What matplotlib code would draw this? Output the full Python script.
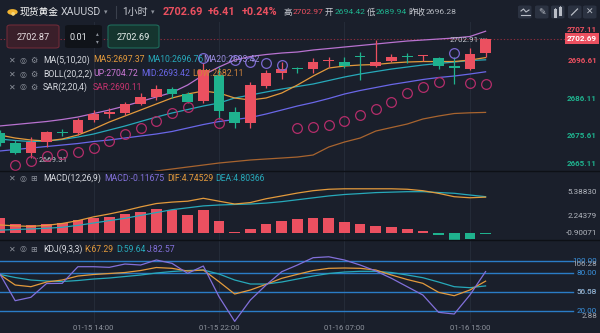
import numpy as np
import matplotlib
matplotlib.use('Agg')
import matplotlib.pyplot as plt
from matplotlib.patches import FancyBboxPatch, Circle
from matplotlib.lines import Line2D

plt.rcParams['font.family'] = ['Roboto', 'Noto Sans CJK SC', 'DejaVu Sans']

# 1小时 K线 (01-15 08:00 起)
opens = [2676.37, 2673.67, 2670.88, 2673.78, 2676.47, 2676.28, 2679.99, 2681.80, 2681.86, 2684.45,
         2686.48, 2688.76, 2687.23, 2685.28, 2692.52, 2682.30, 2679.07, 2689.46, 2692.96, 2694.30,
         2694.11, 2696.50, 2696.06, 2697.70, 2695.11, 2696.42, 2697.70, 2697.80, 2697.17, 2695.11,
         2694.19, 2698.57]
highs = [2677.20, 2674.42, 2675.17, 2677.01, 2677.49, 2680.46, 2682.77, 2683.25, 2685.09, 2687.42,
         2689.74, 2689.18, 2687.87, 2695.78, 2694.84, 2683.53, 2690.49, 2693.91, 2696.23, 2694.84,
         2697.18, 2697.62, 2697.62, 2698.85, 2702.27, 2698.29, 2698.57, 2698.09, 2697.54, 2697.62,
         2700.13, 2702.91]
lows = [2672.75, 2670.52, 2669.31, 2672.55, 2675.53, 2675.81, 2679.51, 2680.46, 2681.38, 2684.17,
        2685.56, 2686.03, 2684.81, 2684.64, 2680.18, 2677.68, 2677.68, 2688.82, 2691.32, 2692.96,
        2692.96, 2694.84, 2694.39, 2691.13, 2694.84, 2696.06, 2695.78, 2696.42, 2694.11, 2689.94,
        2693.91, 2697.62]
closes = [2673.58, 2670.88, 2673.94, 2676.56, 2676.30, 2679.99, 2681.66, 2681.95, 2684.45, 2686.31,
          2688.71, 2687.37, 2685.09, 2693.91, 2682.58, 2679.24, 2689.74, 2692.96, 2694.11, 2694.15,
          2696.23, 2696.65, 2695.17, 2697.55, 2696.23, 2697.45, 2697.55, 2697.95, 2695.11, 2694.39,
          2698.29, 2702.69]

ma5 = [2675.81, 2674.97, 2674.42, 2674.14, 2674.70, 2675.81, 2677.48, 2679.43, 2681.10, 2682.77,
       2684.45, 2686.12, 2687.23, 2688.07, 2687.51, 2686.12, 2685.56, 2686.12, 2687.51, 2689.74,
       2692.24, 2694.47, 2695.03, 2695.31, 2695.45, 2695.87, 2696.14, 2696.28, 2696.28, 2696.28,
       2696.70, 2697.37]
ma10 = [2674.70, 2674.28, 2674.00, 2674.14, 2674.56, 2675.25, 2676.09, 2677.20, 2678.32, 2679.57,
        2680.82, 2681.94, 2682.91, 2683.89, 2684.72, 2686.12, 2686.95, 2687.79, 2688.62, 2689.32,
        2690.02, 2690.99, 2691.97, 2692.80, 2693.50, 2694.19, 2694.75, 2695.31, 2695.73, 2696.14,
        2696.56, 2696.76]
boll_mid = [2671.35, 2671.77, 2672.19, 2672.61, 2673.02, 2673.44, 2674.00, 2674.42, 2674.97, 2675.53,
            2676.09, 2676.79, 2677.76, 2678.73, 2679.57, 2680.13, 2680.68, 2681.66, 2682.77, 2683.89,
            2684.86, 2685.98, 2687.23, 2688.21, 2689.04, 2689.88, 2690.57, 2691.27, 2691.83, 2692.24,
            2692.80, 2693.42]
boll_up = [2678.32, 2678.73, 2679.15, 2679.57, 2680.13, 2680.82, 2681.80, 2682.77, 2683.89, 2685.14,
           2686.40, 2687.65, 2689.74, 2692.52, 2694.75, 2696.70, 2697.68, 2698.23, 2698.65, 2698.93,
           2699.49, 2699.90, 2700.32, 2700.74, 2701.16, 2701.58, 2701.99, 2702.27, 2702.55, 2702.83,
           2703.25, 2704.72]
boll_low = [np.nan] * 9 + [2664.95, 2665.78, 2666.34, 2666.90, 2667.45, 2668.01, 2668.43, 2668.85,
                           2669.13, 2669.40, 2669.68, 2670.24, 2672.47, 2673.86, 2674.97, 2676.92,
                           2677.90, 2678.87, 2680.27, 2681.10, 2681.80, 2682.00, 2682.11]
sar = [np.nan, 2667.45, 2668.65, 2669.96, 2670.52, 2671.16, 2672.33, 2674.14, 2676.00, 2677.76,
       2679.85, 2682.08, 2683.61, 2697.26, 2679.07, 2696.70, 2696.14, 2695.78, 2695.31, 2677.68,
       2677.95, 2678.60, 2679.79, 2681.38, 2683.05, 2685.09, 2687.42, 2689.26, 2690.66, 2698.57,
       2690.21, 2690.11]

macd_hist = [2.06, 1.24, 1.03, 1.24, 1.31, 1.74, 2.06, 2.19, 2.49, 2.81, 3.19, 2.99, 2.40, 2.99, 1.65,
             0.19, 0.61, 1.24, 1.65, 1.86, 2.06, 1.94, 1.53, 1.15, 0.99, 0.78, 0.56, 0.31, -0.22,
             -0.90071, -0.73, -0.11675]
dif = [1.09, 0.96, 0.90, 1.03, 1.28, 1.65, 2.15, 2.53, 2.96, 3.46, 3.90, 4.09, 4.21, 4.59, 4.21,
       3.84, 4.03, 4.53, 4.90, 5.28, 5.59, 5.78, 5.84, 5.84, 5.84, 5.84, 5.78, 5.59, 5.24, 4.80,
       4.66, 4.74529]
dea = [0.40, 0.49, 0.56, 0.65, 0.78, 1.03, 1.34, 1.65, 1.96, 2.34, 2.71, 3.09, 3.34, 3.59, 3.71,
       3.78, 3.84, 3.96, 4.15, 4.40, 4.65, 4.90, 5.09, 5.21, 5.34, 5.40, 5.46, 5.46, 5.35, 5.25,
       5.02, 4.80366]

k_line = [78.2, 61.1, 58.4, 65.9, 69.1, 75.5, 77.9, 79.5, 81.1, 84.3, 89.1, 87.8, 83.5, 85.1, 66.4,
          46.7, 53.1, 62.2, 71.8, 78.2, 84.3, 87.8, 88.3, 87.8, 85.1, 77.1, 69.9, 63.8, 49.4, 44.0,
          53.1, 67.29]
d_line = [78.2, 73.1, 69.1, 67.5, 66.7, 68.3, 70.7, 72.3, 74.7, 77.1, 80.3, 82.7, 84.3, 85.1, 78.7,
          69.1, 62.7, 62.7, 65.9, 70.7, 75.5, 79.5, 81.9, 83.0, 83.0, 81.1, 77.1, 72.8, 65.9, 58.4,
          56.8, 59.64]
j_line = [79.8, 36.0, 41.4, 63.5, 63.8, 90.4, 90.4, 89.4, 94.7, 93.1, 101.1, 95.8, 79.8, 91.5, 42.4,
          2.88, 37.1, 61.1, 82.4, 93.1, 104.8, 106.28, 101.1, 93.1, 83.5, 71.8, 58.4, 45.1, 17.4, 14.7,
          45.1, 82.57]

time_idx = [6, 14, 22, 30]
time_labels = ['01-15 14:00', '01-15 22:00', '01-16 07:00', '01-16 15:00']
price_ticks = [2707.11, 2696.61, 2686.11, 2675.61, 2665.11]
macd_ticks = [5.38830, 2.24379, -0.90071]
kdj_levels = [100, 80, 50, 20]
prev_close = 2696.28

BG = '#1a1f2b'
GRID = '#242b38'
RED = '#eb5060'
GREEN = '#1fb28e'
TXT = '#d6d9df'
GRAY = '#8d929c'
C_MA5 = '#e39a3c'
C_MA10 = '#27a9ba'
C_MA20 = '#9a8de0'
C_UP = '#b872d0'
C_MID = '#6a67e8'
C_LOW = '#a8642f'
C_SAR = '#b42d6a'
C_SAR_UP = '#7b68d0'
C_J = '#8270da'
C_LVL = '#2a7cc6'

W, H = 600, 333
STEP = 15.68
X0, X1 = 0.5 / STEP, 600.5 / STEP

fig = plt.figure(figsize=(6, 3.33), dpi=100, facecolor=BG)


def fx(x):
    return x / W


def fy(y):
    return 1 - y / H


def panel(top, bottom, ylim):
    ax = fig.add_axes([0, fy(bottom), 1, (bottom - top) / H])
    ax.set_facecolor(BG)
    ax.set_xlim(X0, X1)
    ax.set_ylim(*ylim)
    for s in ax.spines.values():
        s.set_visible(False)
    ax.set_xticks([])
    ax.set_yticks([])
    for t in time_idx:
        ax.axvline(t, color=GRID, lw=0.8, zorder=0)
    return ax


def axis_label(ax, v, text, color, pad=7, **kw):
    # 右侧坐标标签, 超出面板时贴边显示
    y = ax.transData.transform((0, v))[1]
    bb = ax.get_window_extent()
    y = min(max(y, bb.y0 + pad), bb.y1 - pad)
    fig.text(fx(597), y / fig.bbox.height, text, color=color, ha='right', va='center',
             fontsize=5.8, **kw)


x = np.arange(len(closes))
o = np.array(opens)
c = np.array(closes)

# ---------- 主图 ----------
ax1 = panel(22, 170.7, (2665.87, 2707.29))
up = c >= o
col = np.where(up, RED, GREEN)
body_lo = np.minimum(o, c)
body_h = np.maximum(np.abs(c - o), 0.3)
ax1.vlines(x, lows, highs, color=col, lw=0.9, zorder=3)
ax1.bar(x, body_h, bottom=body_lo, width=0.68, color=col, zorder=4)

ax1.plot(x, boll_up, color=C_UP, lw=0.9, zorder=2)
ax1.plot(x, boll_low, color=C_LOW, lw=0.9, zorder=2)
ax1.plot(x, boll_mid, color=C_MID, lw=0.9, zorder=2)
ax1.plot(x, ma10, color=C_MA10, lw=0.9, zorder=2)
ax1.plot(x, ma5, color=C_MA5, lw=0.9, zorder=2)

sar_a = np.array(sar)
above = sar_a > c
ax1.plot(x[~above], sar_a[~above], 'o', ms=7, mfc='none', mec=C_SAR, mew=0.9, zorder=5)
ax1.plot(x[above], sar_a[above], 'o', ms=7, mfc='none', mec=C_SAR_UP, mew=0.9, zorder=5)

# 最新价虚线
ax1.hlines(closes[-1], X0, 36.1, color='#8a2c3c', lw=0.8, linestyles=(0, (1.2, 1.8)), zorder=1)

# 最高/最低标注
i_hi = int(np.argmax(highs))
ax1.plot([i_hi - 0.42, i_hi], [highs[i_hi]] * 2, color='#9a9ea8', lw=0.6, ls=(0, (1, 1)))
ax1.text(i_hi - 0.45, highs[i_hi] - 0.6, f'{highs[i_hi]:.2f}', color='#c4c8d0', fontsize=5.8,
         ha='right', va='center')
i_lo = int(np.argmin(lows))
ax1.plot([i_lo + 0.15, i_lo + 0.45], [lows[i_lo]] * 2, color='#9a9ea8', lw=0.6, ls=(0, (1, 1)))
ax1.text(i_lo + 0.5, lows[i_lo] - 0.4, f'{lows[i_lo]:.2f}', color='#c4c8d0', fontsize=5.8,
         ha='left', va='center')

for v in price_ticks:
    axis_label(ax1, v, f'{v:.2f}', RED if v > prev_close else GREEN, fontweight='bold')
y_last = ax1.transData.transform((0, closes[-1]))[1] / fig.bbox.height
fig.text(fx(597), y_last, f'{closes[-1]:.2f}', color='white', ha='right', va='center',
         fontsize=5.8, fontweight='bold',
         bbox=dict(boxstyle='square,pad=0.3', fc=RED, ec='none'))

# ---------- MACD ----------
ax2 = panel(170.7, 240.4, (-0.947, 8.22))
h = np.array(macd_hist)
ax2.bar(x, h, width=0.68, color=np.where(h >= 0, RED, GREEN), zorder=2)
ax2.plot(x, dea, color=C_MA10, lw=0.9, zorder=3)
ax2.plot(x, dif, color=C_MA5, lw=0.9, zorder=3)
for v in macd_ticks:
    axis_label(ax2, v, f'{v:.5f}', '#b4b8c0')

# ---------- KDJ ----------
ax3 = panel(240.4, 322.5, (1.1, 132.5))
for lv in kdj_levels:
    ax3.axhline(lv, xmax=573 / W, color=C_LVL, lw=1.0, zorder=1)
ax3.plot(x, d_line, color=C_MA10, lw=0.9, zorder=3)
ax3.plot(x, k_line, color=C_MA5, lw=0.9, zorder=3)
ax3.plot(x, j_line, color=C_J, lw=0.9, zorder=3)
for lv in kdj_levels:
    axis_label(ax3, lv, f'{lv:.2f}', '#3a93e0')
for v, py in [(max(j_line), 264.5), (56.58, 291.5), (min(j_line), 316.5)]:
    fig.text(fx(597), fy(py), f'{v:.2f}', color='#a6aab3', ha='right', va='center', fontsize=5.8)

for t, lab in zip(time_idx, time_labels):
    xd = ax3.transData.transform((t, 0))[0] / fig.bbox.width
    fig.text(xd, fy(328), lab, color=GRAY, ha='center', va='center', fontsize=5.6)

# 面板分隔线
for py in [170.7, 240.4]:
    fig.add_artist(Line2D([0, 1], [fy(py), fy(py)], color='#0d1016', lw=1.0))

# ---------- 顶部行情栏 ----------
fig.add_artist(Circle((fx(12.5), fy(12)), 5.2 / W, transform=fig.transFigure, fc='#f2b430', ec='none'))
fig.text(fx(12.5), fy(12.3), '●', color='#f7d77a', fontsize=3.5, ha='center', va='center',
         family='DejaVu Sans')
fig.text(fx(20), fy(12), '现货黄金', color='white', fontsize=7.0, va='center')
fig.text(fx(61), fy(12), 'XAUUSD', color='#c9ccd3', fontsize=7.6, va='center')
fig.text(fx(104), fy(12), '▾', color=GRAY, fontsize=5, va='center', family='DejaVu Sans')
fig.add_artist(Line2D([fx(116), fx(116)], [fy(6), fy(18)], color='#3a404c', lw=0.8))
fig.text(fx(122), fy(12), '1小时', color='#c9ccd3', fontsize=7.2, va='center')
fig.text(fx(151), fy(12), '▾', color=GRAY, fontsize=5, va='center', family='DejaVu Sans')
fig.text(fx(163), fy(12), f'{closes[-1]:.2f}', color=RED, fontsize=7.8, va='center', fontweight='bold')
fig.text(fx(208), fy(12), '+6.41', color=RED, fontsize=7.8, va='center', fontweight='bold')
fig.text(fx(242), fy(12), '+0.24%', color=RED, fontsize=7.8, va='center', fontweight='bold')
quote = [('高', '#c9ccd3', 283.5), ('2702.97', RED, 293), ('开', '#c9ccd3', 325),
         ('2694.42', GREEN, 334.5), ('低', '#c9ccd3', 366.5), ('2689.94', GREEN, 376),
         ('昨收', '#c9ccd3', 408), ('2696.28', '#b4b8c0', 426)]
for s, colr, px in quote:
    fig.text(fx(px), fy(12), s, color=colr, fontsize=6.1, va='center')

btn_x = [518, 535, 551, 568, 583]
for bx in btn_x:
    fig.add_artist(FancyBboxPatch((fx(bx), fy(18.5)), 13.5 / W, 13 / H, transform=fig.transFigure,
                                  boxstyle='round,pad=0,rounding_size=0.004', fc='#2b3241', ec='none'))
gl = '#b9bdc6'
fig.add_artist(Line2D([fx(521), fx(523.5), fx(526), fx(529)], [fy(11), fy(9), fy(12), fy(10)],
                      color=gl, lw=0.8))
fig.add_artist(Line2D([fx(521), fx(529.5)], [fy(14.5), fy(14.5)], color=gl, lw=0.8))
fig.text(fx(541.5), fy(12), '✎', color=gl, fontsize=6.5, ha='center', va='center', family='DejaVu Sans')
for cx, y0, y1 in [(555, 9.5, 15.5), (560, 7.5, 13.5)]:
    fig.add_artist(Line2D([fx(cx), fx(cx)], [fy(y0 - 1.2), fy(y1 + 1.2)], color=gl, lw=0.6))
    fig.add_artist(Line2D([fx(cx), fx(cx)], [fy(y0), fy(y1)], color=gl, lw=2.2))
fig.add_artist(Line2D([fx(571.5), fx(577.5)], [fy(15), fy(9)], color=gl, lw=0.9))
fig.text(fx(590), fy(12), '✕', color=gl, fontsize=6.5, ha='center', va='center', family='DejaVu Sans')

# 下单框
fig.add_artist(FancyBboxPatch((fx(7), fy(48)), 52 / W, 23 / H, transform=fig.transFigure,
                              boxstyle='round,pad=0,rounding_size=0.006', fc='#3a1f2a', ec='#6e2a38', lw=0.8))
fig.text(fx(33), fy(37.5), '2702.87', color='#e6dde0', fontsize=6.6, ha='center', va='center')
fig.add_artist(FancyBboxPatch((fx(65), fy(48)), 37 / W, 23 / H, transform=fig.transFigure,
                              boxstyle='round,pad=0,rounding_size=0.006', fc='#101319', ec='none'))
fig.text(fx(70), fy(37.5), '0.01', color='#e6e8ec', fontsize=6.6, va='center')
fig.text(fx(97.5), fy(34), '▴', color=GRAY, fontsize=4, ha='center', va='center', family='DejaVu Sans')
fig.text(fx(97.5), fy(41.5), '▾', color=GRAY, fontsize=4, ha='center', va='center', family='DejaVu Sans')
fig.add_artist(FancyBboxPatch((fx(108), fy(48)), 51 / W, 23 / H, transform=fig.transFigure,
                              boxstyle='round,pad=0,rounding_size=0.006', fc='#15352f', ec='#1e6c5b', lw=0.8))
fig.text(fx(133.5), fy(37.5), f'{closes[-1]:.2f}', color='#e6eeec', fontsize=6.6, ha='center', va='center')


# ---------- 指标图例 ----------
def legend_row(py, icon3, name, items):
    fig.text(fx(12), fy(py), '✕', color=GRAY, fontsize=5.8, ha='center', va='center', family='DejaVu Sans')
    fig.text(fx(23), fy(py), '◎', color=GRAY, fontsize=5.8, ha='center', va='center', family='DejaVu Sans')
    fig.text(fx(34), fy(py), icon3, color=GRAY, fontsize=5.8, ha='center', va='center', family='DejaVu Sans')
    fig.text(fx(43), fy(py), name, color=TXT, fontsize=6.2, va='center')
    for px, s, colr in items:
        fig.text(fx(px), fy(py), s, color=colr, fontsize=6.2, va='center')


legend_row(60, '⚙', 'MA(5,10,20)', [(93, f'MA5:{ma5[-1]:.2f}', C_MA5),
                                    (147, f'MA10:{ma10[-1]:.2f}', C_MA10),
                                    (203, f'MA20:{boll_mid[-1]:.2f}', C_MA20)])
legend_row(74, '⚙', 'BOLL(20,2,2)', [(93, f'UP:{boll_up[-1]:.2f}', '#cf7ad9'),
                                     (141, f'MID:{boll_mid[-1]:.2f}', C_MID),
                                     (192, f'LOW:{boll_low[-1]:.2f}', '#d0843c')])
legend_row(87, '⚙', 'SAR(2,20,4)', [(93, f'SAR:{sar[-1]:.2f}', '#c8336f')])
legend_row(178.5, '⊞', 'MACD(12,26,9)', [(104, f'MACD:{macd_hist[-1]:.5f}', C_J),
                                         (167, f'DIF:{dif[-1]:.5f}', C_MA5),
                                         (215, f'DEA:{dea[-1]:.5f}', C_MA10)])
legend_row(249, '⊞', 'KDJ(9,3,3)', [(84, f'K:{k_line[-1]:.2f}', C_MA5),
                                     (116, f'D:{d_line[-1]:.2f}', C_MA10),
                                     (147, f'J:{j_line[-1]:.2f}', C_J)])

fig.savefig('out.png', dpi=100, facecolor=BG)
